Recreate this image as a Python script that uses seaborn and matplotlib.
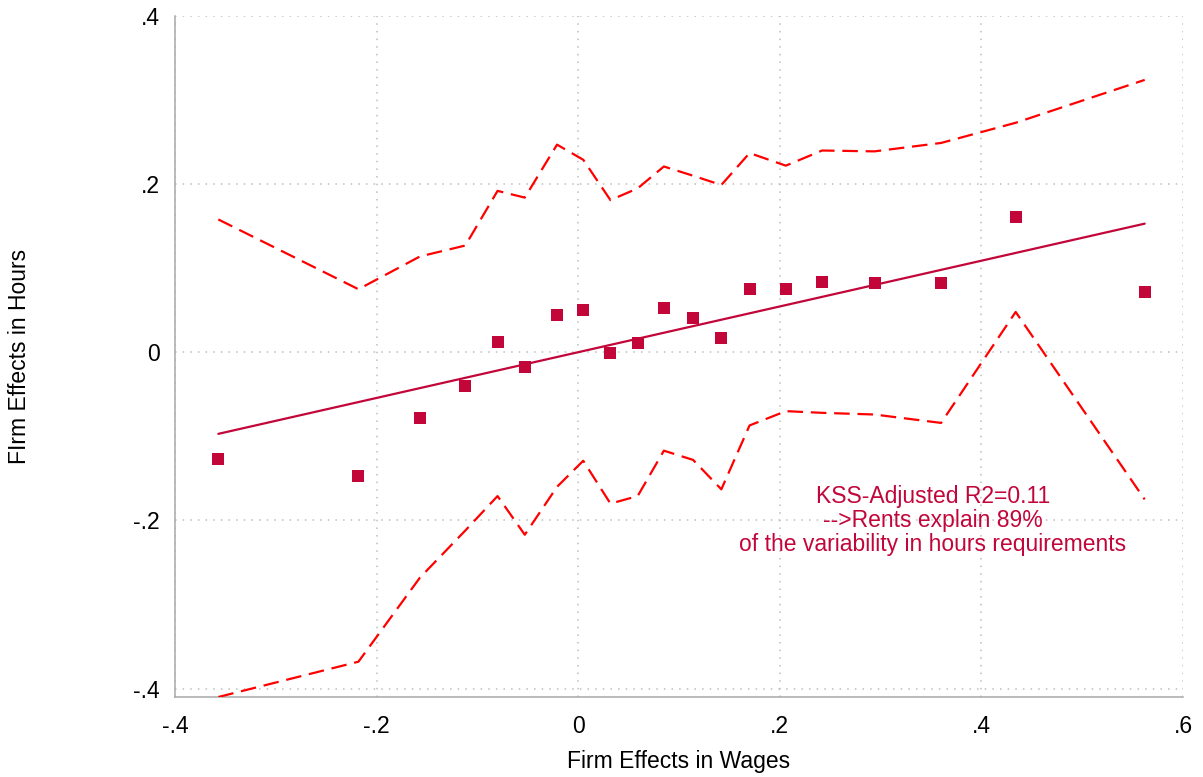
import numpy as np
import pandas as pd
import matplotlib
matplotlib.use("Agg")
import matplotlib.pyplot as plt
import seaborn as sns

# ---- data ----
bin_x = [-0.357, -0.218, -0.157, -0.112, -0.080, -0.053, -0.021, 0.005, 0.032, 0.059,
         0.085, 0.114, 0.142, 0.170, 0.206, 0.242, 0.294, 0.360, 0.434, 0.562]
hours_fe = [-0.127, -0.147, -0.078, -0.040, 0.012, -0.017, 0.044, 0.050, -0.001, 0.011,
            0.053, 0.041, 0.017, 0.075, 0.075, 0.084, 0.082, 0.082, 0.161, 0.072]
ci_upper = [0.158, 0.075, 0.114, 0.127, 0.192, 0.184, 0.247, 0.229, 0.181, 0.195,
            0.221, 0.210, 0.199, 0.237, 0.222, 0.240, 0.239, 0.249, 0.273, 0.324]
ci_lower = [-0.410, -0.368, -0.268, -0.212, -0.171, -0.217, -0.160, -0.129, -0.180, -0.171,
            -0.117, -0.128, -0.163, -0.087, -0.070, -0.072, -0.074, -0.084, 0.048, -0.175]
fit_x = [-0.357, 0.562]
fit_y = [-0.097, 0.153]

x_ticks = [-0.4, -0.2, 0.0, 0.2, 0.4, 0.6]
x_ticklabels = ["-.4", "-.2", "0", ".2", ".4", ".6"]
y_ticks = [-0.4, -0.2, 0.0, 0.2, 0.4]
y_ticklabels = ["-.4", "-.2", "0", ".2", ".4"]

annotation = "KSS-Adjusted R2=0.11\n-->Rents explain 89%\nof the variability in hours requirements"
x_label = "Firm Effects in Wages"
y_label = "FIrm Effects in Hours"

# ---- style ----
sns.set_style("white")
plt.rcParams["font.family"] = ["Liberation Sans", "DejaVu Sans"]

marker_color = "#C2063A"
ci_color = "#FF0000"
axis_gray = "#A8A8A8"

df = pd.DataFrame({"x": bin_x, "y": hours_fe, "hi": ci_upper, "lo": ci_lower})
fit_df = pd.DataFrame({"x": fit_x, "y": fit_y})

fig = plt.figure(figsize=(12.03, 7.77), dpi=100)
ax = fig.add_axes([175 / 1203, 1 - 697 / 777, (1183 - 175) / 1203, (697 - 16) / 777])

dash = (0, (7, 3.5))
sns.lineplot(data=df, x="x", y="hi", ax=ax, color=ci_color, linewidth=1.6,
             linestyle="--", estimator=None, sort=False, zorder=3)
sns.lineplot(data=df, x="x", y="lo", ax=ax, color=ci_color, linewidth=1.6,
             linestyle="--", estimator=None, sort=False, zorder=3)
for ln in ax.get_lines():
    ln.set_linestyle(dash)
sns.lineplot(data=fit_df, x="x", y="y", ax=ax, color=marker_color, linewidth=1.6,
             estimator=None, zorder=4)
sns.scatterplot(data=df, x="x", y="y", ax=ax, marker="s", s=64, color=marker_color,
                linewidth=0, zorder=5)

ax.set_xlim(-0.4, 0.6)
ax.set_ylim(-0.41, 0.4)
ax.set_xticks(x_ticks)
ax.set_xticklabels(x_ticklabels)
ax.set_yticks(y_ticks)
ax.set_yticklabels(y_ticklabels)

ax.grid(True, linestyle=(0, (1, 4)), color="#BDBDBD", linewidth=1.1)
for s in ["top", "right"]:
    ax.spines[s].set_visible(False)
for s in ["left", "bottom"]:
    ax.spines[s].set_color(axis_gray)
    ax.spines[s].set_linewidth(1.1)
ax.spines["left"].set_bounds(-0.41, 0.4)

ax.tick_params(axis="both", which="major", direction="out", length=8, width=1.1,
               color=axis_gray, labelsize=16.5, labelcolor="black")
ax.tick_params(axis="x", pad=5)
ax.tick_params(axis="y", pad=3)

ax.set_xlabel(x_label, fontsize=16.5, color="black", va="center")
ax.xaxis.set_label_coords(0.5, -0.094)
ax.set_ylabel(y_label, fontsize=16.5, color="black", va="center")
ax.yaxis.set_label_coords(-0.154, 0.5)

ax.text(0.352, -0.200, annotation, ha="center", va="center", fontsize=16.5,
        color=marker_color, linespacing=1.07)

fig.savefig("out.png", dpi=100)
